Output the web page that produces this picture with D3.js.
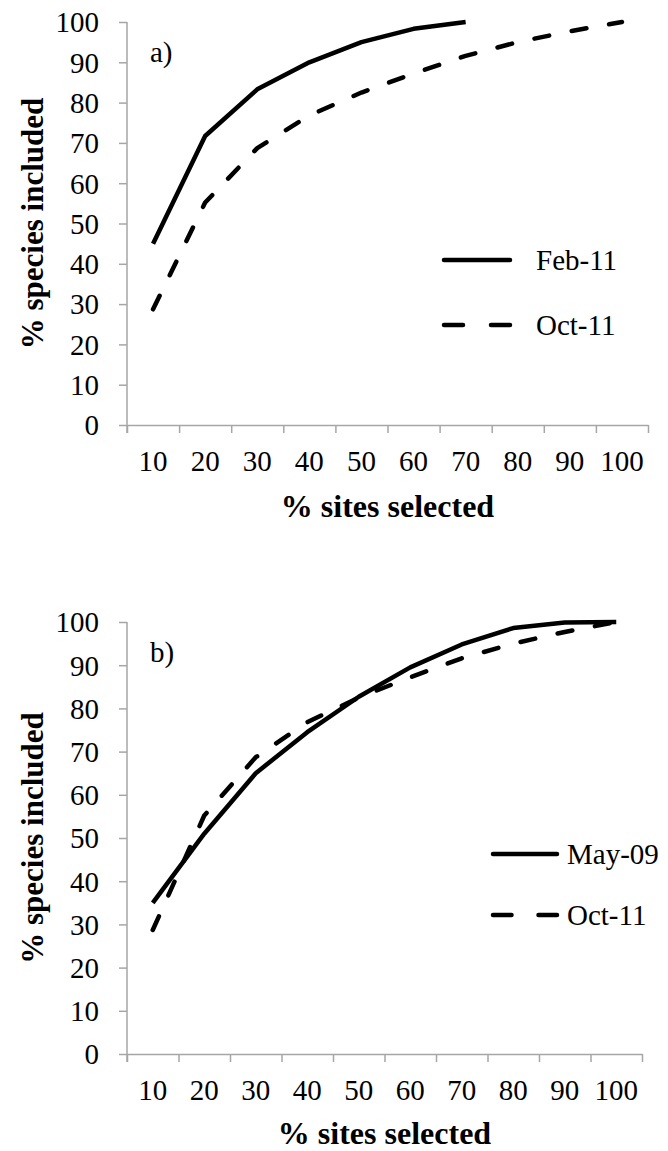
<!DOCTYPE html>
<html>
<head>
<meta charset="utf-8">
<script src="https://cdn.jsdelivr.net/npm/d3@7"></script>
<style>
  body { margin: 0; background: #fff; }
  svg, svg text { font-family: "Liberation Serif", "Times New Roman", "DejaVu Serif", serif; }
</style>
</head>
<body>
<div id="chart"></div>
<script>
// categories on the x axis (% sites selected)
const sites = ["10", "20", "30", "40", "50", "60", "70", "80", "90", "100"]
const yTicks = [0, 10, 20, 30, 40, 50, 60, 70, 80, 90, 100]

// % species included
const feb11 = [45, 71.7, 83.3, 90, 95, 98.3, 100]
const oct11 = [28.7, 55.2, 68.7, 76.8, 82.5, 87.2, 91.6, 95, 97.7, 100]
const may09 = [35, 51, 65, 74.5, 82.7, 89.5, 94.8, 98.6, 99.9, 100]

const AXIS = "#a6a6a6"

let svg = d3.select("#chart").append("svg")
    .attr("width", 668)
    .attr("height", 1151)

function drawPanel(cfg) {
    let g = svg.append("g")

    let x = d3.scaleBand()
        .domain(sites)
        .range([cfg.left, cfg.right])

    // boundaries between categories carry the tick marks
    let xb = d3.scaleLinear()
        .domain([0, sites.length])
        .range([cfg.left, cfg.right])

    let y = d3.scaleLinear()
        .domain([0, 100])
        .range([cfg.bottom, cfg.top])

    // y axis
    let yAxis = g.append("g")
        .attr("transform", "translate(" + cfg.left + ",0)")
        .call(d3.axisLeft(y).tickValues(yTicks).tickSize(8).tickSizeOuter(0).tickPadding(20))
        .attr("font-family", null)
    yAxis.select(".domain").attr("stroke", AXIS).attr("stroke-width", 1.5)
        .attr("d", "M0," + (cfg.bottom + 8) + "V" + cfg.top)
    yAxis.selectAll(".tick line").attr("stroke", AXIS).attr("stroke-width", 1.5)
    yAxis.selectAll(".tick text").attr("font-size", "29px").attr("dy", "0.34em")

    // x axis tick marks
    let xTicks = g.append("g")
        .attr("transform", "translate(0," + cfg.bottom + ")")
        .call(d3.axisBottom(xb).tickValues(d3.range(sites.length + 1)).tickSize(8).tickSizeOuter(0).tickFormat(""))
    xTicks.select(".domain").attr("stroke", AXIS).attr("stroke-width", 1.5)
    xTicks.selectAll(".tick line").attr("stroke", AXIS).attr("stroke-width", 1.5)

    // x axis labels
    let xLabels = g.append("g")
        .attr("transform", "translate(0," + cfg.bottom + ")")
        .call(d3.axisBottom(x).tickSize(0).tickPadding(25))
        .attr("font-family", null)
    xLabels.select(".domain").remove()
    xLabels.selectAll(".tick text").attr("font-size", "29px")

    // axis titles
    g.append("text")
        .text("% sites selected")
        .attr("x", (cfg.left + cfg.right) / 2)
        .attr("y", cfg.bottom + cfg.titleGap)
        .attr("text-anchor", "middle")
        .attr("font-size", "32px")
        .attr("font-weight", "bold")

    g.append("text")
        .text("% species included")
        .attr("transform", "translate(43," + ((cfg.top + cfg.bottom) / 2) + ") rotate(-90)")
        .attr("text-anchor", "middle")
        .attr("font-size", "31px")
        .attr("font-weight", "bold")

    // panel letter
    g.append("text")
        .text(cfg.letter)
        .attr("x", cfg.left + 23)
        .attr("y", cfg.top + 40)
        .attr("font-size", "29px")

    let line = d3.line()
        .x(d => x(d.site) + x.bandwidth() / 2)
        .y(d => y(d.value))

    cfg.series.forEach(s => {
        let pts = s.values.map((v, i) => ({ site: sites[i], value: v }))
        g.append("path")
            .datum(pts)
            .attr("d", line)
            .attr("fill", "none")
            .attr("stroke", "#000")
            .attr("stroke-width", 4.5)
            .attr("stroke-linejoin", "round")
            .attr("stroke-linecap", s.dashed ? "round" : "butt")
            .attr("stroke-dasharray", s.dashed ? "15,23" : null)
    })

    // legend
    let legend = g.append("g")
    cfg.series.forEach((s, i) => {
        let ly = cfg.legendY + i * cfg.legendGap
        legend.append("line")
            .attr("x1", cfg.legendX)
            .attr("x2", cfg.legendX + cfg.legendLen)
            .attr("y1", ly)
            .attr("y2", ly)
            .attr("stroke", "#000")
            .attr("stroke-width", 4.5)
            .attr("stroke-linecap", "round")
            .attr("stroke-dasharray", s.dashed ? cfg.legendDash : null)
        legend.append("text")
            .text(s.name)
            .attr("x", cfg.legendX + cfg.legendLen + cfg.legendTextGap)
            .attr("y", ly)
            .attr("dy", "0.34em")
            .attr("font-size", "29px")
    })
}

drawPanel({
    letter: "a)",
    left: 127, right: 648, top: 22, bottom: 425, titleGap: 92,
    series: [
        { name: "Feb-11", values: feb11, dashed: false },
        { name: "Oct-11", values: oct11, dashed: true }
    ],
    legendX: 444, legendLen: 66, legendTextGap: 26, legendY: 260, legendGap: 65,
    legendDash: "19,28"
})

drawPanel({
    letter: "b)",
    left: 127, right: 642, top: 622, bottom: 1054, titleGap: 90,
    series: [
        { name: "May-09", values: may09, dashed: false },
        { name: "Oct-11", values: oct11, dashed: true }
    ],
    legendX: 493, legendLen: 64, legendTextGap: 10, legendY: 854, legendGap: 61,
    legendDash: "18.5,27"
})
</script>
</body>
</html>
